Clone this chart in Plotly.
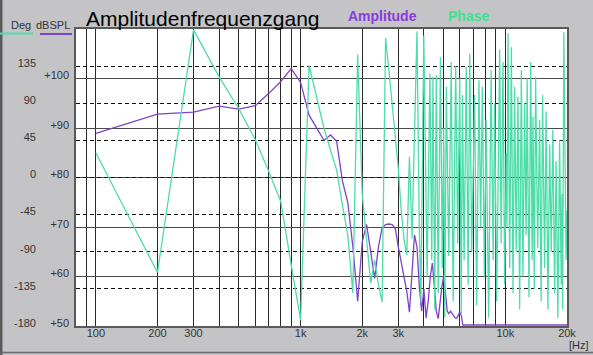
import plotly.graph_objects as go

W, H = 593, 355

# ---------------- data ----------------
amp_freq = [100, 200, 300, 400, 500, 600, 700, 800, 900, 1000,
            1100, 1200, 1300, 1400, 1500, 1600, 1700, 1800, 1900, 2000,
            2100, 2200, 2300, 2400, 2500, 2600, 2700, 2800, 2900, 3000,
            3100, 3200, 3300, 3400, 3500, 3600, 3700, 3800, 3900, 4000,
            4100, 4200, 4300, 4400, 4500, 4600, 4700, 4800, 4900, 5000,
            5100, 5200, 5300, 5400, 5500, 5600, 5700, 5800, 5900, 6000,
            6100, 6200, 20000]
amp_db = [88.9, 92.8, 93.2, 94.4, 93.8, 94.5, 97.0, 99.4, 102.0, 99.2,
          92.6, 90.0, 87.5, 88.6, 87.3, 79.3, 75.0, 66.0, 55.0, 67.0,
          70.5, 65.0, 59.6, 66.0, 69.8, 70.5, 70.6, 70.5, 69.7, 66.0,
          63.0, 60.5, 57.0, 52.8, 61.0, 68.4, 66.0, 58.0, 53.0, 57.5,
          51.6, 55.0, 60.0, 62.7, 58.0, 53.0, 51.5, 55.0, 58.0, 60.3,
          57.0, 53.0, 52.5, 53.0, 52.5, 52.0, 51.6, 51.6, 52.2, 52.9,
          52.0, 50.2, 50.2]

phase_freq = [100, 200, 300, 400, 500, 600, 700, 800, 900, 1000,
              1100, 1200, 1300, 1400, 1500, 1600, 1700, 1800, 1900, 2000,
              2100, 2200, 2300, 2400, 2500, 2600, 2700, 2800, 2900, 3000,
              3100, 3200, 3300, 3400, 3500, 3700, 3800, 3870, 3995, 4086,
              4150, 4280, 4370, 4430, 4520, 4600, 4700, 4820, 4920, 5000,
              5060, 5150, 5290, 5440, 5560, 5720, 5850, 5985, 6090, 6170,
              6290, 6440, 6580, 6700, 6850, 7080, 7240, 7430, 7575, 7720,
              7900, 8050, 8290, 8520, 8720, 8870, 9070, 9380, 9540, 9740,
              9920, 10100, 10180, 10300, 10500, 10700, 10900, 11100, 11300, 11520,
              11740, 11970, 12180, 12420, 12630, 12780, 13040, 13300, 13520, 13640,
              13850, 14050, 14380, 14700, 14950, 15200, 15550, 15820, 16140, 16450,
              16760, 17060, 17400, 17690, 18050, 18400, 18750, 18900, 19050, 19300,
              19800, 20000]
phase_deg = [30, -115, 179, 122, 83, 46, 7, -29, -106, -173,
             136, 96, 60, 33, 9, -33, -70, -140, 149, -20,
             -80, -128, -100, -130, -151, 169, 130, 90, 50, 11,
             -40, -75, -94, 25, -74, 177, -60, -150, 172, -40,
             -120, 126, -100, 122, -160, 124, -140, 146, -110, 60,
             -170, 110, -95, 140, -150, 135, -80, 120, -165, 100,
             -100, 134, -130, 150, -90, 100, -155, 118, -60, 110,
             -120, 70, -170, 130, -100, 90, -150, 155, -80, 140,
             -130, 30, -60, 175, -110, 158, -140, 110, -90, 98,
             -160, 130, -120, 90, -70, 120, -145, 140, -100, 74,
             -135, 122, -85, 70, -150, 100, -110, 80, -160, 40,
             -90, 58, -140, 20, -170, 45, -130, -20, -160, 176,
             -100, -40]

x_tickvals = [90, 100, 200, 300, 400, 500, 600, 700, 800, 900,
              1000, 2000, 3000, 4000, 5000, 6000, 7000, 8000, 9000,
              10000, 20000]
x_ticktext = ["", "100", "200", "300", "", "", "", "", "", "",
              "1k", "2k", "3k", "", "", "", "", "", "",
              "10k", "20k"]
db_ticks = [50, 60, 70, 80, 90, 100]
db_text = ["+50", "+60", "+70", "+80", "+90", "+100"]
deg_ticks = [-180, -135, -90, -45, 0, 45, 90, 135]
deg_text = ["-180", "-135", "-90", "-45", "0", "45", "90", "135"]

# ---------------- styling ----------------
BG = "#c4c4c6"
PURPLE = "#7d44c6"
GREEN = "#4ddcaa"
FONT = "Liberation Sans, Arial, sans-serif"
TICKFONT = dict(family=FONT, size=11, color="#333333")


def px_x(p):
    return p / W


def px_y(p):
    return 1 - p / H


fig = go.Figure()
fig.add_trace(go.Scatter(x=amp_freq, y=amp_db, mode="lines", name="Amplitude",
                         line=dict(color=PURPLE, width=1.3), yaxis="y"))
fig.add_trace(go.Scatter(x=phase_freq, y=phase_deg, mode="lines", name="Phase",
                         line=dict(color=GREEN, width=1.3), yaxis="y2"))

fig.update_layout(
    width=W, height=H,
    margin=dict(l=0, r=0, t=0, b=0, pad=0),
    paper_bgcolor=BG, plot_bgcolor="white",
    showlegend=False,
    xaxis=dict(
        type="log", domain=[px_x(76), px_x(567)],
        range=[1.90309, 4.30103],
        tickmode="array", tickvals=x_tickvals, ticktext=x_ticktext,
        showgrid=True, gridcolor="#2a2a2a", gridwidth=1,
        showline=True, mirror=True, linecolor="#5a5a5a", linewidth=1.5,
        ticks="", tickfont=TICKFONT, ticklabelstandoff=-4,
        zeroline=False, fixedrange=True, automargin=False,
    ),
    yaxis=dict(
        domain=[29 / H, 326 / H], range=[50, 110],
        tickmode="array", tickvals=db_ticks, ticktext=db_text,
        showgrid=True, gridcolor="#4a4a4a", gridwidth=1.3,
        showline=True, mirror=True, linecolor="#5a5a5a", linewidth=1.5,
        ticks="", tickfont=TICKFONT, ticklabelstandoff=3, ticklabelshift=-3,
        zeroline=False, automargin=False,
    ),
    yaxis2=dict(
        overlaying="y", side="left", anchor="free", position=px_x(36),
        range=[-180, 180],
        tickmode="array", tickvals=deg_ticks, ticktext=deg_text,
        showgrid=True, gridcolor="#111111", gridwidth=1, griddash="4px,3px",
        showline=False, ticks="", tickfont=TICKFONT, ticklabelshift=-3,
        zeroline=False, automargin=False,
    ),
)

ann = [
    dict(text="Amplitudenfrequenzgang", x=px_x(84), y=px_y(18), xanchor="left", yanchor="middle",
         font=dict(family=FONT, size=21, color="#000000")),
    dict(text="<b>Amplitude</b>", x=px_x(346), y=px_y(16), xanchor="left", yanchor="middle",
         font=dict(family=FONT, size=14, color="#8a3ae0")),
    dict(text="<b>Phase</b>", x=px_x(446), y=px_y(16), xanchor="left", yanchor="middle",
         font=dict(family=FONT, size=14, color="#40e090")),
    dict(text="Deg", x=px_x(33), y=px_y(25), xanchor="right", yanchor="middle",
         font=dict(family=FONT, size=11, color="#333333")),
    dict(text="dBSPL", x=px_x(72), y=px_y(25), xanchor="right", yanchor="middle",
         font=dict(family=FONT, size=11, color="#333333")),
    dict(text="[Hz]", x=px_x(567), y=px_y(337), xanchor="left", yanchor="top",
         font=dict(family=FONT, size=11, color="#333333")),
]
for a in ann:
    a.update(xref="paper", yref="paper", showarrow=False)
fig.update_layout(annotations=ann)

fig.update_layout(shapes=[
    dict(type="line", xref="paper", yref="paper", x0=px_x(0), x1=px_x(33), y0=px_y(33.5), y1=px_y(33.5),
         line=dict(color=GREEN, width=2)),
    dict(type="line", xref="paper", yref="paper", x0=px_x(40), x1=px_x(72), y0=px_y(34), y1=px_y(34),
         line=dict(color=PURPLE, width=2)),
    dict(type="rect", xref="paper", yref="paper", x0=0, x1=px_x(2.5), y0=0, y1=1,
         line=dict(width=0), fillcolor="#5a5a5a", layer="below"),
    dict(type="line", xref="paper", yref="paper", x0=0, x1=1, y0=px_y(352.5), y1=px_y(352.5),
         line=dict(color="#6a6a6a", width=1.5)),
])

fig.write_html("out.html", config={"displayModeBar": False},
               post_script="document.body.style.margin='0';")
